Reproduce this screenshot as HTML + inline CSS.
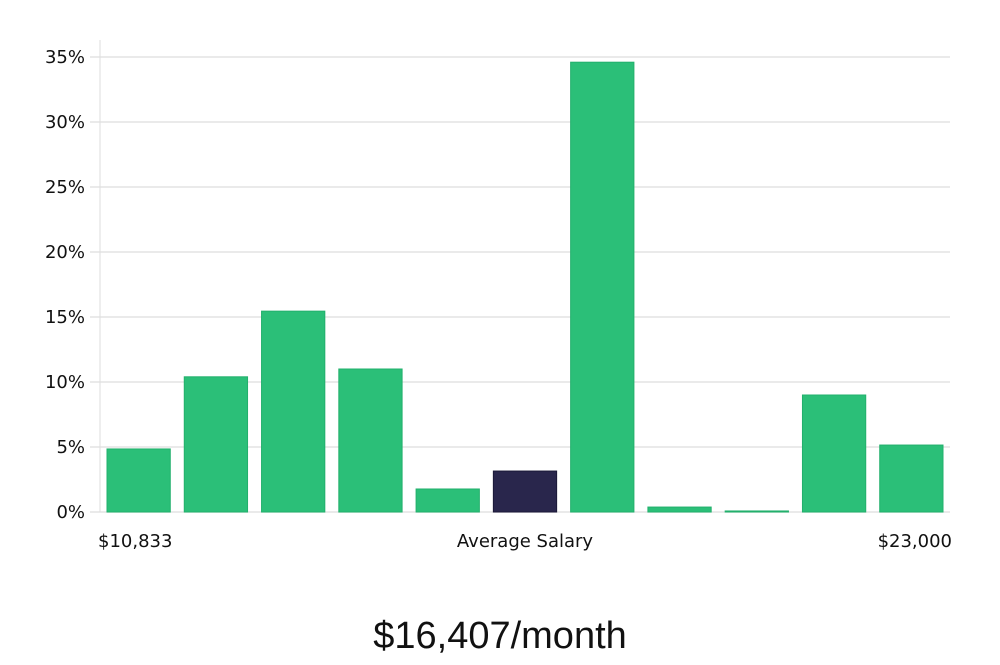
<!DOCTYPE html>
<html><head><meta charset="utf-8"><style>
body{margin:0;background:#fff;width:1000px;height:660px;overflow:hidden}
svg text{font-family:"DejaVu Sans","Liberation Sans",sans-serif;fill:#111}
</style></head><body>
<svg id="chart" width="1000" height="660">
<g id="grid"></g>
<g id="bars"></g>
<line x1="100" y1="40" x2="100" y2="512" stroke="#ddd"/>
<text x="98" y="547" font-size="18">$10,833</text>
<text x="525" y="547" font-size="18" text-anchor="middle">Average Salary</text>
<text x="952" y="547" font-size="18" text-anchor="end">$23,000</text>
<text x="500" y="648" font-size="38" text-anchor="middle" style="font-family:'Liberation Sans',sans-serif;font-weight:300" fill="#222">$16,407/month</text>
</svg>
<script>
const values=[4.85,10.4,15.45,11.0,1.77,3.15,34.6,0.38,0.08,9.0,5.15];
const highlighted=[false,false,false,false,false,true,false,false,false,false,false];
const ticks=[0,5,10,15,20,25,30,35];
const tickLabels=["0%","5%","10%","15%","20%","25%","30%","35%"];
const NS="http://www.w3.org/2000/svg";
const x0=100,x1=950,yBase=512,yTop=57,vMax=35;
const y=v=>yBase-(v/vMax)*(yBase-yTop);
const slot=(x1-x0)/values.length;
const xb=i=>x0+i*slot+7;
const g=document.getElementById('grid');
ticks.forEach((t,i)=>{
 const l=document.createElementNS(NS,'line');
 
 
 l.setAttribute('x1',90);l.setAttribute('x2',x1);l.setAttribute('y1',y(t));l.setAttribute('y2',y(t));
 l.setAttribute('stroke','#e3e3e3');l.setAttribute('stroke-width','1.5');g.appendChild(l);
 const tx=document.createElementNS(NS,'text');
 
 
 tx.setAttribute('x',85);tx.setAttribute('y',y(t)+6);tx.setAttribute('text-anchor','end');tx.setAttribute('font-size','18');
 tx.textContent=tickLabels[i];g.appendChild(tx);
});
const b=document.getElementById('bars');
values.forEach((v,i)=>{
 const r=document.createElementNS(NS,'rect');
 
 
 r.setAttribute('x',xb(i));r.setAttribute('width',slot-14);
 r.setAttribute('y',y(v));r.setAttribute('height',yBase-y(v));
 r.setAttribute('fill',highlighted[i]?'#29264c':'#2bbf78');
 r.setAttribute('stroke',highlighted[i]?'#1a1838':'#22b06c');
 b.appendChild(r);
});
</script>
</body></html>
